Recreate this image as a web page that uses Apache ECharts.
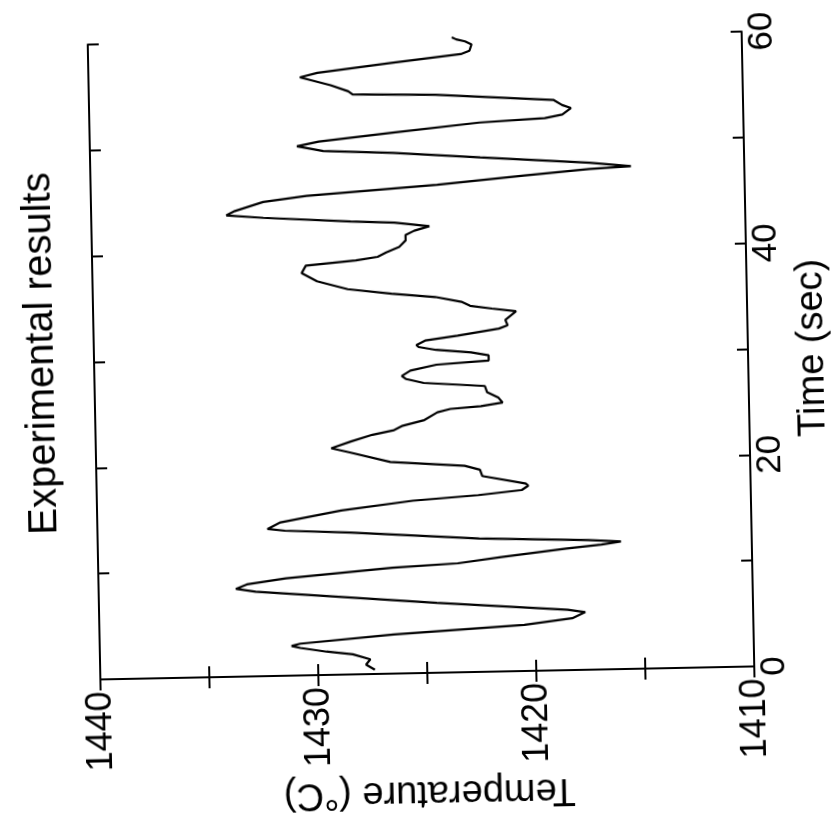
<!DOCTYPE html>
<html>
<head>
<meta charset="utf-8">
<script src="https://cdn.jsdelivr.net/npm/echarts@6/dist/echarts.min.js"></script>
<style>
html,body{margin:0;padding:0;background:#fff;overflow:hidden;}
#chart{width:836px;height:817px;transform:rotate(-1.14deg);transform-origin:421px 355.5px;}
</style>
</head>
<body>
<div id="chart"></div>
<script>
// Time (sec) samples along the trace
const timeSec = [0.4,0.9,1.4,1.9,2.2,2.6,2.8,3.0,3.7,4.35,4.9,5.45,5.7,6.6,7.6,8.0,8.3,8.7,9.2,10.0,10.3,10.8,11.5,11.8,12.05,12.25,12.6,13.4,13.7,13.9,14.5,15.5,16.3,16.7,17.1,17.5,17.7,18.5,19.1,19.5,20.0,21.0,21.4,22.0,22.6,23.0,23.4,23.9,24.6,24.9,25.1,25.4,25.9,26.4,27.0,27.4,27.8,28.1,28.6,29.1,29.4,29.9,30.2,30.5,30.8,31.0,31.4,31.8,32.4,32.7,33.2,34.0,34.3,34.6,35.0,35.5,35.9,36.4,37.2,38.0,38.7,39.1,39.4,39.8,40.3,40.9,41.4,41.8,42.2,42.6,42.8,43.3,43.6,44.0,44.8,45.3,46.1,46.8,47.3,47.5,47.9,48.6,49.2,49.5,50.0,50.4,51.1,51.9,52.2,52.5,53.1,53.4,53.9,54.6,54.8,55.1,55.7,56.5,56.9,57.7,58.4,58.7,59.3,59.6,59.8,60.0];
// Temperature (°C) at each sample
const tempC = [1427.4,1427.8,1427.6,1428.4,1429.6,1430.8,1431.2,1430.8,1426.5,1420.5,1418.3,1417.7,1418.5,1424.5,1430.4,1432.8,1433.7,1433.2,1431.4,1426.5,1423.5,1421.5,1418.5,1416.9,1416.0,1417.5,1422.5,1428.4,1431.4,1432.2,1431.6,1428.8,1425.5,1422.5,1420.5,1420.2,1420.3,1422.3,1422.4,1423.1,1426.5,1428.4,1429.2,1428.3,1427.3,1426.3,1425.9,1424.9,1424.3,1423.7,1422.3,1421.3,1421.5,1422.0,1422.1,1424.9,1425.7,1425.9,1425.5,1424.3,1421.9,1421.9,1422.7,1424.3,1425.1,1425.2,1424.8,1423.3,1421.4,1421.0,1421.1,1420.6,1421.7,1422.7,1423.1,1424.3,1426.3,1428.3,1429.7,1430.4,1430.2,1427.9,1426.9,1426.5,1425.9,1425.6,1425.6,1425.2,1424.5,1426.1,1428.1,1432.1,1433.8,1433.4,1432.1,1430.1,1424.1,1420.1,1417.1,1415.2,1417.1,1422.1,1426.1,1429.3,1430.5,1429.5,1426.1,1422.1,1419.1,1418.3,1417.9,1418.3,1418.7,1424.1,1427.9,1428.1,1428.9,1430.3,1429.5,1426.1,1422.9,1422.5,1422.4,1422.7,1423.1,1423.3];
const tempTicks = [1410,1420,1430,1440];
const timeTicks = [0,20,40,60];
const titleText = 'Experimental results';
const tempName = 'Temperature (°C)';
const timeName = 'Time (sec)';

const FONT = 'Liberation Sans, Arial, Helvetica, sans-serif';
const chart = echarts.init(document.getElementById('chart'));
const seriesData = timeSec.map((t, i) => [tempC[i], t]);
const lineCol = '#000';
const axisBase = {
  axisLine: {show: true, lineStyle: {color: lineCol, width: 2}},
  axisTick: {show: true, inside: true, length: 11, lineStyle: {color: lineCol, width: 2}},
  splitLine: {show: false}
};
chart.setOption({
  animation: false,
  backgroundColor: '#fff',
  grid: {left: 94, right: 88, top: 38, bottom: 144, containLabel: false, outerBoundsMode: 'none'},
  xAxis: [
    Object.assign({}, axisBase, {
      type: 'value', position: 'bottom', min: 1410, max: 1440, interval: 5, inverse: true,
      axisLabel: {rotate: 90, fontSize: 36, fontFamily: FONT, color: '#000', margin: 12,
        formatter: v => tempTicks.includes(v) ? String(v) : ''},
      name: tempName, nameLocation: 'middle', nameRotate: 180, nameGap: 98,
      nameTextStyle: {fontSize: 38, fontFamily: FONT, color: '#000'}
    }),
    Object.assign({}, axisBase, {
      type: 'value', position: 'top', min: 1410, max: 1440, interval: 5, inverse: true,
      axisLabel: {show: false}
    })
  ],
  yAxis: [
    Object.assign({}, axisBase, {
      type: 'value', position: 'right', min: 0, max: 60, interval: 10,
      axisLabel: {rotate: 90, fontSize: 35, fontFamily: FONT, color: '#000', margin: 3,
        formatter: v => timeTicks.includes(v) ? String(v) : ''},
      name: timeName, nameLocation: 'middle', nameRotate: 90, nameGap: 46,
      nameTextStyle: {fontSize: 38, fontFamily: FONT, color: '#000'}
    }),
    Object.assign({}, axisBase, {
      type: 'value', position: 'left', min: 0, max: 60, interval: 10,
      axisLabel: {show: false}
    })
  ],
  graphic: [{
    type: 'text', x: 42, y: 346, rotation: Math.PI / 2,
    style: {text: titleText, fontSize: 40, fontFamily: FONT, fill: '#000', align: 'center', verticalAlign: 'middle'}
  }],
  series: [{
    type: 'line', xAxisIndex: 0, yAxisIndex: 0, data: seriesData,
    showSymbol: false, symbol: 'none', smooth: false,
    lineStyle: {color: lineCol, width: 2.2}
  }]
});
</script>
</body>
</html>
